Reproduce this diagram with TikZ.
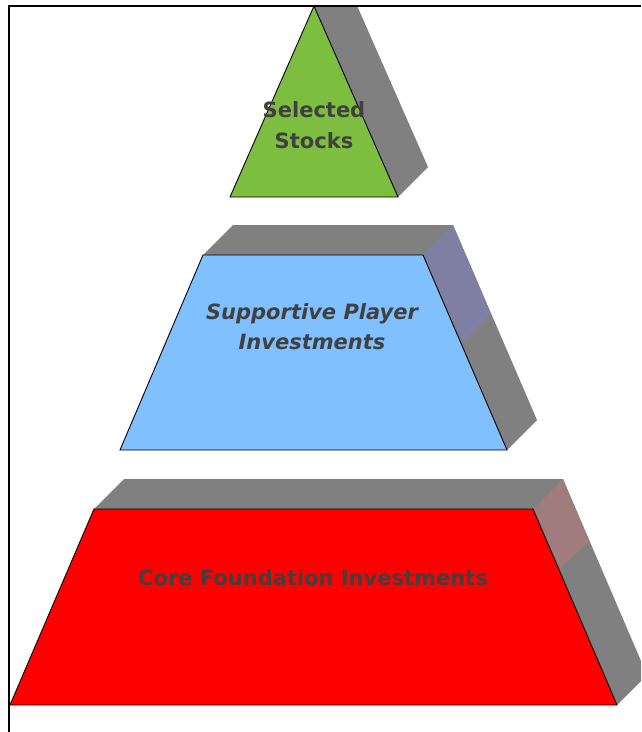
\documentclass[tikz,border=0pt]{standalone}
\usepackage{fontspec}
\setmainfont{DejaVu Sans}
\definecolor{topgreen}{HTML}{7DBE40}
\definecolor{midblue}{HTML}{80C0FF}
\definecolor{botred}{HTML}{FF0000}
\definecolor{sidegray}{HTML}{808080}
\definecolor{tintblue}{HTML}{7F7FA3}
\definecolor{tintred}{HTML}{A07C7C}
\definecolor{labelgray}{HTML}{404040}
\tikzset{
  front/.style={draw=black, line width=0.9pt, line join=miter},
  side/.style={fill=sidegray, draw=none},
  label/.style={text=labelgray, font=\fontsize{21}{31}\selectfont\bfseries, align=center, inner sep=0pt},
}
\begin{document}
\begin{tikzpicture}[x=1pt, y=-1pt]
\useasboundingbox (0,0) rectangle (641,732);
\begin{scope}
\clip (9,6) rectangle (641,732);
% top triangle side
\fill[side] (314,6) -- (344,-24) -- (428,167) -- (398,197) -- cycle;
% middle trapezoid side
\fill[side] (203,255) -- (233,225) -- (453,225) -- (537,420) -- (507,450) -- cycle;
\fill[tintblue] (423,255) -- (453,225) -- (491,314) -- (463,342) -- cycle;
% bottom trapezoid side
\fill[side] (94,509) -- (124,479) -- (563,479) -- (647,675) -- (617,705) -- cycle;
\fill[tintred] (533,509) -- (563,479) -- (589,542) -- (560,568) -- cycle;
\end{scope}
% fronts
\filldraw[front, fill=topgreen] (314,6) -- (398,197) -- (230,197) -- cycle;
\filldraw[front, fill=midblue] (203,255) -- (423,255) -- (507,450) -- (120,450) -- cycle;
\filldraw[front, fill=botred] (94,509) -- (533,509) -- (617,705) -- (10,705) -- cycle;
% frame
\draw[line width=1.3pt] (9,732) -- (9,6) -- (641,6);
% labels
\node[label] (sel) at (314,125) {Selected\\Stocks};
\node[label, font=\fontsize{21}{30}\selectfont\bfseries\itshape] (sup) at (312,327) {Supportive Player\\Investments};
\node[label] (core) at (313,578) {Core Foundation Investments};
\end{tikzpicture}
\end{document}
